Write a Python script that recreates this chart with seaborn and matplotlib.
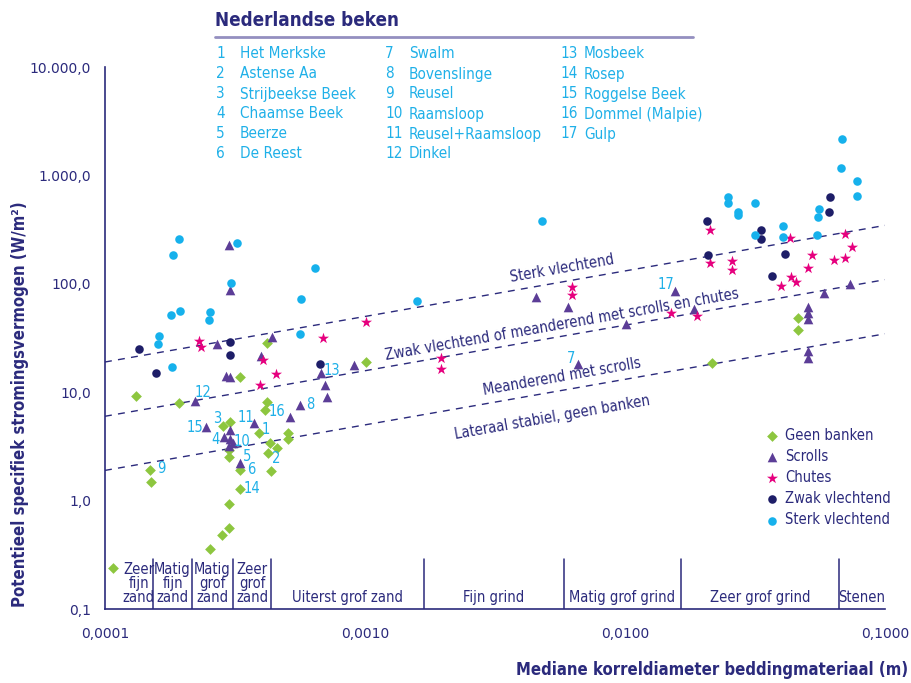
import numpy as np
import pandas as pd
import matplotlib
matplotlib.use("Agg")
import matplotlib.pyplot as plt
import matplotlib.font_manager as fm
from matplotlib.font_manager import FontProperties
import seaborn as sns

# ---------------------------------------------------------------- data
# Geen banken
geen_x = [1.316e-4, 1.926e-4, 4.21e-4, 3.30e-4, 4.21e-4, 4.11e-4, 2.84e-4, 3.03e-4,
          3.91e-4, 5.06e-4, 5.06e-4, 4.30e-4, 4.58e-4, 4.24e-4, 3.00e-4, 3.00e-4,
          3.30e-4, 4.36e-4, 1.494e-4, 1.507e-4, 3.31e-4, 3.01e-4, 3.01e-4, 2.81e-4,
          2.54e-4, 1.009e-3, 0.0462, 0.0462, 0.02156, 1.07e-4]
geen_y = [9.17, 7.95, 28.6, 13.7, 8.07, 6.89, 4.88, 5.28,
          4.18, 4.18, 3.70, 3.40, 3.04, 2.73, 2.93, 2.52,
          1.92, 1.88, 1.93, 1.49, 1.29, 0.936, 0.562, 0.479,
          0.355, 18.9, 48.0, 37.2, 18.7, 0.240]

# Scrolls
scroll_x = [3.01e-4, 3.03e-4, 2.70e-4, 4.38e-4, 3.98e-4, 2.91e-4, 3.03e-4, 2.22e-4,
            5.64e-4, 5.16e-4, 2.45e-4, 3.74e-4, 3.02e-4, 2.88e-4, 3.02e-4, 3.10e-4,
            3.00e-4, 3.30e-4, 9.07e-4, 6.75e-4, 7.00e-4, 7.16e-4, 4.55e-3, 6.02e-3,
            1.009e-2, 1.557e-2, 1.842e-2, 0.0581, 0.0731, 0.0504, 0.0504, 0.0504,
            0.0504, 0.0504, 6.61e-3]
scroll_y = [228, 87.7, 27.8, 32.5, 21.6, 14.1, 13.7, 8.35,
            7.62, 5.90, 4.78, 5.20, 4.48, 3.84, 3.70, 3.42,
            3.21, 2.22, 17.7, 15.1, 11.7, 9.09, 76.0, 61.5,
            42.3, 86.4, 58.2, 82.8, 100.2, 60.7, 54.1, 47.1,
            24.1, 20.5, 18.1]

# Chutes
chute_x = [2.30e-4, 2.35e-4, 4.05e-4, 4.56e-4, 3.95e-4, 1.009e-3, 6.91e-4, 1.955e-3,
           1.955e-3, 6.25e-3, 6.25e-3, 1.507e-2, 1.897e-2, 2.118e-2, 2.118e-2, 2.572e-2,
           2.572e-2, 0.0432, 0.0522, 0.0506, 0.0434, 0.0453, 0.0399, 0.0638,
           0.0702, 0.0700, 0.0747]
chute_y = [29.9, 26.1, 19.7, 14.6, 11.7, 44.7, 31.6, 20.7,
           16.3, 92.8, 78.3, 54.1, 50.1, 311, 156.5, 161,
           135, 263, 186, 140, 116, 103, 96, 166,
           174, 286, 217]

# Zwak vlechtend
zwak_x = [1.348e-4, 1.567e-4, 3.03e-4, 3.03e-4, 6.71e-4, 2.067e-2, 2.085e-2, 3.335e-2,
          3.335e-2, 0.04135, 0.03675, 0.0613, 0.0607]
zwak_y = [25.2, 15.0, 28.9, 22.0, 18.1, 377, 183, 313,
          257, 190, 117, 636, 463]

# Sterk vlechtend
sterk_x = [1.926e-4, 1.826e-4, 3.22e-4, 3.04e-4, 1.789e-4, 1.938e-4, 2.54e-4, 2.52e-4,
           1.609e-4, 1.603e-4, 1.815e-4, 5.67e-4, 5.62e-4, 6.40e-4, 1.58e-3, 4.81e-3,
           0.0683, 0.0679, 0.0780, 0.0780, 0.02496, 0.02496, 0.02728, 0.02728,
           0.03155, 0.03162, 0.0404, 0.0404, 0.0556, 0.0553, 0.0548]
sterk_y = [259, 184, 236, 102, 51.6, 56.5, 54.6, 46.4,
           32.8, 27.7, 17.0, 72.9, 34.7, 139, 69.8, 377,
           2153, 1163, 888, 642, 636, 553, 457, 431,
           560, 282, 344, 269, 493, 413, 284]

categories = ["Geen banken", "Scrolls", "Chutes", "Zwak vlechtend", "Sterk vlechtend"]

# Numbered stream labels
label_nums = ["12", "16", "15", "3", "11", "1", "4", "10", "5", "2", "6", "9",
              "14", "13", "8", "17", "7"]
label_x = [2.38e-4, 4.58e-4, 2.21e-4, 2.70e-4, 3.48e-4, 4.17e-4, 2.66e-4, 3.36e-4,
           3.53e-4, 4.54e-4, 3.66e-4, 1.64e-4, 3.69e-4, 7.46e-4, 6.15e-4, 1.434e-2,
           6.18e-3]
label_y = [10.0, 6.61, 4.70, 5.74, 5.87, 4.51, 3.70, 3.49,
           2.54, 2.46, 1.92, 1.99, 1.29, 15.8, 7.78, 99.6,
           20.5]

# Stream names
beken = ["Het Merkske", "Astense Aa", "Strijbeekse Beek", "Chaamse Beek", "Beerze",
         "De Reest", "Swalm", "Bovenslinge", "Reusel", "Raamsloop", "Reusel+Raamsloop",
         "Dinkel", "Mosbeek", "Rosep", "Roggelse Beek", "Dommel (Malpie)", "Gulp"]

# Regime boundaries: power-law lines omega = c * (D / 1e-4) ** exponent
regime_exponent = 0.42
regime_coef = [19.0, 6.0, 1.9]

# Grain size classes
class_edges = [1.0e-4, 1.532e-4, 2.163e-4, 3.108e-4, 4.365e-4, 1.682e-3, 5.83e-3,
               1.64e-2, 6.66e-2, 1.0e-1]
class_names = ["Zeer\nfijn\nzand", "Matig\nfijn\nzand", "Matig\ngrof\nzand",
               "Zeer\ngrof\nzand", "Uiterst grof zand", "Fijn grind", "Matig grof grind",
               "Zeer grof grind", "Stenen"]

x_ticks = [1e-4, 1e-3, 1e-2, 1e-1]
x_ticklabels = ["0,0001", "0,0010", "0,0100", "0,1000"]
y_ticks = [0.1, 1, 10, 100, 1000, 10000]
y_ticklabels = ["0,1", "1,0", "10,0", "100,0", "1.000,0", "10.000,0"]

# ---------------------------------------------------------------- style
NAVY = "#2b2a7c"
CYAN = "#1fb0e8"
palette = {"Geen banken": "#8dc63f", "Scrolls": "#5c3d97", "Chutes": "#e6007e",
           "Zwak vlechtend": "#1e1e68", "Sterk vlechtend": "#16b1ec"}
markers = {"Geen banken": "D", "Scrolls": "^", "Chutes": "*",
           "Zwak vlechtend": "o", "Sterk vlechtend": "o"}
sizes = {"Geen banken": 30, "Scrolls": 48, "Chutes": 70,
         "Zwak vlechtend": 38, "Sterk vlechtend": 38}

sns.set_style("white")


def narrow_font(bold):
    """Return properties of an installed condensed sans face, else Open Sans."""
    want_bold = 700 if bold else 400
    cands = []
    for f in fm.fontManager.ttflist:
        st = str(f.stretch).lower()
        nm = f.name.lower()
        if ("condensed" in st or "narrow" in nm or "condensed" in nm
                or st in ("semi-condensed", "extra-condensed")):
            if str(f.style) != "normal":
                continue
            w = f.weight if isinstance(f.weight, (int, float)) else (700 if "bold" in str(f.weight) else 400)
            if "extra" in st or "ultra" in st:
                continue
            cands.append((abs(w - want_bold), 0 if "sans" in nm else 1, f.fname))
    if cands:
        cands.sort()
        return lambda size: FontProperties(fname=cands[0][2], size=size)
    return lambda size: FontProperties(family="Open Sans",
                                       weight="bold" if bold else "normal", size=size)


REG = narrow_font(False)
BOLD = narrow_font(True)
plt.rcParams["font.family"] = ["Open Sans", "DejaVu Sans"]

frames = []
for cat, xs, ys in zip(categories,
                       [geen_x, scroll_x, chute_x, zwak_x, sterk_x],
                       [geen_y, scroll_y, chute_y, zwak_y, sterk_y]):
    frames.append(pd.DataFrame({"D": xs, "omega": ys, "type": cat}))
df = pd.concat(frames, ignore_index=True)

fig = plt.figure(figsize=(9.12, 6.83), dpi=100)
ax = fig.add_axes([0.1151, 0.1083, 0.8553, 0.7936])
ax.set_xscale("log")
ax.set_yscale("log")
ax.set_xlim(1e-4, 1e-1)
ax.set_ylim(0.1, 10000)

# regime lines
xl = np.array([1e-4, 1e-1])
for c in regime_coef:
    ax.plot(xl, c * (xl / 1e-4) ** regime_exponent, color=NAVY, lw=1.0,
            dashes=(5, 4.5), zorder=1)

for cat in categories:
    sub = df[df["type"] == cat]
    sns.scatterplot(data=sub, x="D", y="omega", color=palette[cat], marker=markers[cat],
                    s=sizes[cat], linewidth=0, ax=ax, label=cat, zorder=3)


# regime labels along the lines
def line_angle(c):
    p1 = ax.transData.transform((1e-4, c))
    p2 = ax.transData.transform((1e-1, c * 1000 ** regime_exponent))
    return np.degrees(np.arctan2(p2[1] - p1[1], p2[0] - p1[0]))


ang = line_angle(regime_coef[0])
for c, txt, xc, dy, va in [
        (regime_coef[0], "Sterk vlechtend", 5.8e-3, 4, "bottom"),
        (regime_coef[1], "Zwak vlechtend of meanderend met scrolls en chutes", 5.8e-3, 3, "bottom"),
        (regime_coef[2], "Meanderend met scrolls", 5.8e-3, 4, "bottom"),
        (regime_coef[2], "Lateraal stabiel, geen banken", 5.2e-3, -13, "top")]:
    yc = c * (xc / 1e-4) ** regime_exponent
    ax.annotate(txt, (xc, yc), xytext=(0, dy), textcoords="offset points",
                ha="center", va=va, rotation=ang, rotation_mode="anchor",
                color=NAVY, fontproperties=REG(10.6))

# numbered labels
for t, x, y in zip(label_nums, label_x, label_y):
    ax.text(x, y, t, color=CYAN, fontproperties=REG(10.5), ha="center", va="center",
            zorder=4)

# grain size class separators and names
sep_top = 0.29
for e in class_edges[1:-1]:
    ax.plot([e, e], [0.1, sep_top], color=NAVY, lw=1.1, zorder=2)
for i, name in enumerate(class_names):
    lo, hi = class_edges[i], class_edges[i + 1]
    xm = np.sqrt(lo * hi)
    if i == 0:
        xm = np.sqrt(1.12e-4 * hi) * 1.03
    ax.text(xm, 0.108, name, ha="center", va="bottom", color=NAVY,
            fontproperties=REG(10.5), linespacing=0.95, zorder=4)

# axes styling
for s in ["top", "right"]:
    ax.spines[s].set_visible(False)
for s in ["left", "bottom"]:
    ax.spines[s].set_color(NAVY)
    ax.spines[s].set_linewidth(1.2)
ax.set_xticks(x_ticks)
ax.set_xticklabels(x_ticklabels)
ax.set_yticks(y_ticks)
ax.set_yticklabels(y_ticklabels)
ax.minorticks_off()
ax.tick_params(axis="both", which="major", length=5, width=1, color="#8a86bb",
               labelcolor=NAVY, labelsize=10, direction="out")
ax.tick_params(axis="y", pad=5)
ax.tick_params(axis="x", pad=8)
for lab in ax.get_xticklabels() + ax.get_yticklabels():
    lab.set_family("DejaVu Sans")
ax.set_xlabel("")
ax.set_ylabel("")

fig.text(0.996, 0.006, "Mediane korreldiameter beddingmateriaal (m)", ha="right",
         va="bottom", color=NAVY, fontproperties=BOLD(12))
fig.text(0.012, 0.112, "Potentieel specifiek stromingsvermogen (W/m²)", rotation=90,
         ha="left", va="bottom", color=NAVY, fontproperties=BOLD(12))

# marker legend
leg = ax.legend(loc="upper left", bbox_to_anchor=(0.837, 0.345), frameon=False,
                prop=REG(10.5), labelspacing=0.42, handletextpad=0.25,
                handlelength=1.2, borderaxespad=0)
for t in leg.get_texts():
    t.set_color(NAVY)

# stream name list
fig.text(215 / 912, 1 - 20 / 683, "Nederlandse beken", ha="left", va="center",
         color=NAVY, fontproperties=BOLD(13.5))
fig.add_artist(plt.Line2D([215 / 912, 693 / 912], [1 - 37 / 683, 1 - 37 / 683],
                          color="#948fc0", lw=2))
col_num_x = [216, 385, 560]
col_name_x = [240, 409, 584]
row_y = [53, 74, 94, 114, 134, 154]
for i, name in enumerate(beken):
    col, row = divmod(i, 6)
    yy = 1 - row_y[row] / 683
    fig.text(col_num_x[col] / 912, yy, str(i + 1), ha="left", va="center",
             color=CYAN, fontproperties=REG(11))
    fig.text(col_name_x[col] / 912, yy, name, ha="left", va="center",
             color=CYAN, fontproperties=REG(11))

fig.savefig("out.png", dpi=100)
